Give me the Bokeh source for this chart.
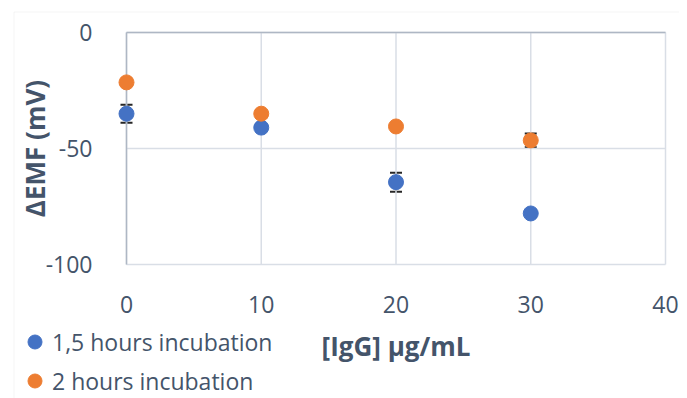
import math
from bokeh.plotting import figure
from bokeh.models import (Range1d, Legend, LegendItem, BoxAnnotation, Whisker, LinearAxis,
                          ColumnDataSource, FixedTicker, TeeHead)
from bokeh.embed import file_html
from bokeh.resources import INLINE

# ---- data ----
conc = [0, 10, 20, 30]
emf_15h = [-35.0, -41.0, -64.5, -78.0]
err_15h = [3.9, 1.5, 4.1, 1.5]
emf_2h = [-21.5, -35.0, -40.5, -46.5]
err_2h = [1.0, 1.5, 1.0, 3.0]
x_ticks = [0, 10, 20, 30, 40]
y_ticks = [0, -50, -100]
series_names = ["1,5 hours incubation", "2 hours incubation"]
x_title = "[IgG] µg/mL"
y_title = "ΔEMF (mV)"

BLUE = "#4472C4"
ORANGE = "#ED7D31"
TXT = "#44546A"
GRID = "#D9DEE6"
AXL = "#AEB7C4"
FONT = "Open Sans"

W, H = 679, 398
# plot-area placement in pixels (layout only)
PX0, PX1, PY0, PY1 = 126, 665, 32, 264
xmin, xmax = x_ticks[0], x_ticks[-1]
ymin, ymax = y_ticks[-1], y_ticks[0]
sx = (PX1 - PX0) / (xmax - xmin)
sy = (PY1 - PY0) / (ymax - ymin)
x_range = Range1d(xmin - PX0 / sx, xmax + (W - PX1) / sx)
y_range = Range1d(ymin - (H - PY1) / sy, ymax + PY0 / sy)

p = figure(width=W, height=H, x_range=x_range, y_range=y_range,
           x_axis_type=None, y_axis_type=None,
           output_backend="svg", toolbar_location=None, min_border=0)
p.outline_line_color = None
p.background_fill_color = "white"
p.border_fill_color = "white"

# chart border (outer frame of the chart object)
p.add_layout(BoxAnnotation(left=xmin - (PX0 - 13.5) / sx, right=xmax + 100,
                           top=ymax + (PY0 - 11.5) / sy, bottom=ymin - 500,
                           fill_alpha=0, line_color="#D9D9D9", line_width=1))

# gridlines
p.segment(x0=[xmin] * len(y_ticks), x1=[xmax] * len(y_ticks),
          y0=y_ticks, y1=y_ticks, line_color=GRID, line_width=1.5)
p.segment(x0=x_ticks, x1=x_ticks, y0=[ymin] * len(x_ticks), y1=[ymax] * len(x_ticks),
          line_color=GRID, line_width=1.5)
# axis lines: horizontal axis crosses at y=0 (top), vertical axis at x=0
p.segment(x0=[xmin], x1=[xmax], y0=[0], y1=[0], line_color=AXL, line_width=1.5)
p.segment(x0=[0], x1=[0], y0=[ymin], y1=[ymax], line_color=AXL, line_width=1.5)

xaxis = LinearAxis(fixed_location=ymin, bounds=(xmin, xmax), ticker=FixedTicker(ticks=x_ticks),
                   axis_label=x_title)
yaxis = LinearAxis(fixed_location=xmin, bounds=(ymin, ymax), ticker=FixedTicker(ticks=y_ticks),
                   axis_label=y_title)
yaxis.major_label_overrides = {v: str(v) for v in y_ticks}
for ax in (xaxis, yaxis):
    ax.axis_line_color = None
    ax.major_tick_line_color = None
    ax.minor_tick_line_color = None
    ax.major_label_text_font = FONT
    ax.major_label_text_font_size = "23px"
    ax.major_label_text_color = TXT
    ax.axis_label_text_font = FONT
    ax.axis_label_text_font_size = "26px"
    ax.axis_label_text_font_style = "bold"
    ax.axis_label_text_color = TXT
xaxis.major_label_standoff = 25
xaxis.axis_label_standoff = 12
yaxis.major_label_standoff = 28
yaxis.axis_label_standoff = -10
p.add_layout(xaxis, "below")
p.add_layout(yaxis, "left")

# error bars
src1 = ColumnDataSource(dict(x=conc, y=emf_15h,
                             lo=[v - e for v, e in zip(emf_15h, err_15h)],
                             hi=[v + e for v, e in zip(emf_15h, err_15h)]))
src2 = ColumnDataSource(dict(x=conc, y=emf_2h,
                             lo=[v - e for v, e in zip(emf_2h, err_2h)],
                             hi=[v + e for v, e in zip(emf_2h, err_2h)]))
for s in (src1, src2):
    p.add_layout(Whisker(source=s, base="x", lower="lo", upper="hi",
                         line_color="#262626", line_width=1.5,
                         upper_head=TeeHead(size=12, line_color="#262626", line_width=2),
                         lower_head=TeeHead(size=12, line_color="#262626", line_width=2)))

r1 = p.scatter("x", "y", source=src1, size=15, fill_color=BLUE, line_color=BLUE)
r2 = p.scatter("x", "y", source=src2, size=15, fill_color=ORANGE, line_color=ORANGE)

legend = Legend(items=[LegendItem(label=series_names[0], renderers=[r1]),
                       LegendItem(label=series_names[1], renderers=[r2])],
                location=(17, 0), orientation="vertical",
                glyph_width=35, glyph_height=35, spacing=4, padding=0, margin=0,
                label_standoff=-6, border_line_color=None, background_fill_alpha=0,
                label_text_font=FONT, label_text_font_size="23px", label_text_color=TXT)
p.add_layout(legend)

open("out.html", "w").write(file_html(p, INLINE))
